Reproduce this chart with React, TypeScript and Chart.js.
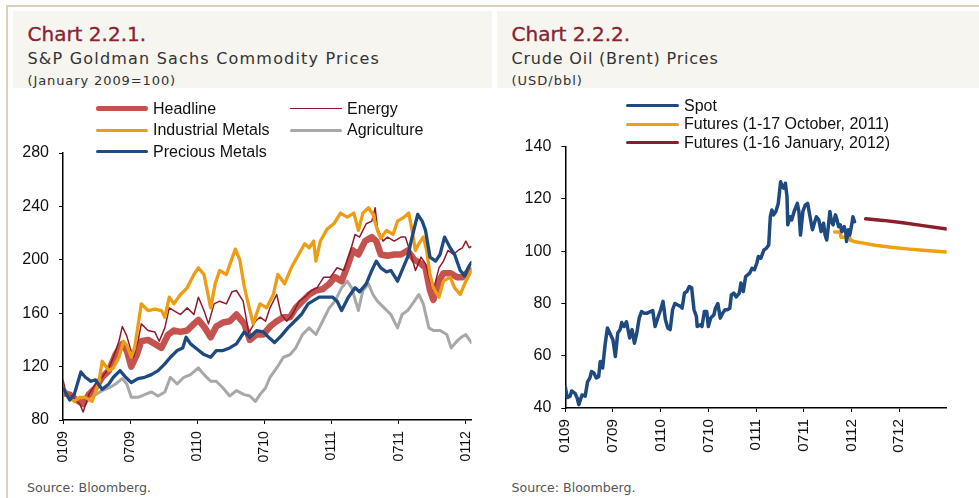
import React, { useEffect, useRef } from 'react';
import { Chart, registerables } from 'chart.js';
Chart.register(...registerables);

// ---------- Chart 2.2.1 : S&P GSCI sub-indices (x = months since Jan 2009) ----------
const gsTickMonths = [0, 6, 12, 18, 24, 30, 36];
const gsTickLabels = ['0109', '0709', '0110', '0710', '0111', '0711', '0112'];
const gsYMin = 80;
const gsYMax = 280;
const gsYStep = 40;

const headline: [number, number][] = [
  [0, 100], [0.6, 99], [1.2, 95], [1.8, 92], [2.3, 99], [2.9, 104], [3.5, 112], [4.1, 117], [4.7, 129], [5.3, 137],
  [5.7, 132], [6.1, 120], [6.6, 129], [7.0, 139], [7.6, 140], [8.2, 137], [8.8, 134], [9.4, 144], [9.9, 147], [10.5, 146],
  [11.1, 147], [11.7, 152], [12.1, 155], [12.6, 150], [13.2, 142], [13.7, 150], [14.3, 153], [14.9, 154], [15.5, 159], [16.2, 152],
  [16.7, 140], [17.3, 144], [17.9, 144], [18.5, 150], [19.1, 154], [19.7, 157], [20.3, 157], [20.8, 164], [21.4, 169], [22.0, 174],
  [22.6, 177], [23.2, 178], [23.8, 182], [24.3, 187], [24.9, 184], [25.5, 197], [25.9, 207], [26.4, 204], [27.0, 214], [27.6, 217],
  [28.0, 214], [28.4, 204], [29.0, 203], [29.6, 204], [30.2, 204], [30.8, 207], [31.4, 200], [32.0, 197], [32.4, 194], [32.8, 177],
  [33.1, 170], [33.6, 184], [34.0, 190], [34.6, 190], [35.2, 187], [35.7, 187], [36.2, 191], [36.5, 192],
];

const energy: [number, number][] = [
  [0, 110], [0.3, 99], [0.9, 97], [1.5, 92], [1.8, 86], [2.3, 99], [2.9, 107], [3.5, 112], [4.1, 119], [4.5, 127],
  [5.0, 139], [5.3, 150], [5.7, 143], [6.0, 134], [6.3, 127], [6.7, 139], [7.0, 152], [7.6, 147], [8.2, 146], [8.6, 139],
  [9.1, 149], [9.5, 164], [9.9, 162], [10.5, 159], [11.1, 164], [11.7, 159], [12.1, 172], [12.6, 162], [13.0, 152], [13.5, 167],
  [14.0, 169], [14.6, 167], [15.1, 176], [15.5, 177], [16.1, 169], [16.6, 145], [17.2, 154], [17.6, 157], [18.1, 154], [18.5, 164],
  [19.1, 174], [19.5, 159], [20.0, 154], [20.5, 159], [21.1, 169], [21.6, 172], [22.2, 177], [22.7, 179], [23.3, 187], [23.9, 187],
  [24.5, 194], [25.1, 192], [25.7, 207], [26.1, 219], [26.5, 217], [27.1, 227], [27.6, 229], [27.9, 239], [28.1, 224], [28.6, 214],
  [29.0, 217], [29.6, 214], [30.2, 217], [30.6, 217], [31.1, 204], [31.5, 192], [32.0, 202], [32.4, 197], [32.8, 184], [33.1, 177],
  [33.6, 194], [34.0, 199], [34.4, 207], [34.9, 204], [35.3, 207], [35.7, 209], [36.0, 214], [36.3, 209], [36.5, 210],
];

const industrialMetals: [number, number][] = [
  [0, 104], [0.4, 98], [1.0, 94], [1.5, 97], [2.0, 97], [2.6, 94], [3.2, 108], [3.5, 124], [4.1, 117], [4.5, 119],
  [5.0, 127], [5.4, 139], [5.7, 136], [6.1, 127], [6.4, 134], [7.0, 167], [7.6, 162], [8.2, 163], [8.8, 162], [9.1, 157],
  [9.5, 172], [9.9, 167], [10.5, 174], [11.1, 179], [11.7, 189], [12.1, 194], [12.6, 189], [13.2, 164], [13.6, 182], [14.0, 192],
  [14.6, 189], [15.4, 208], [15.8, 200], [16.2, 180], [16.5, 169], [17.0, 152], [17.6, 167], [18.2, 164], [18.8, 174], [19.2, 189],
  [19.8, 182], [20.4, 194], [21.0, 203], [21.6, 212], [22.0, 209], [22.4, 214], [22.6, 199], [23.0, 214], [23.6, 223], [24.2, 227],
  [24.8, 235], [25.4, 232], [26.0, 235], [26.4, 222], [26.8, 235], [27.3, 239], [27.7, 234], [28.1, 222], [28.4, 216], [28.9, 222],
  [29.5, 219], [29.9, 229], [30.5, 232], [30.9, 235], [31.2, 222], [31.5, 207], [31.8, 212], [32.2, 217], [32.5, 207], [32.8, 189],
  [33.1, 179], [33.6, 172], [34.0, 184], [34.6, 187], [35.0, 179], [35.5, 174], [36.0, 184], [36.5, 192],
];

const agriculture: [number, number][] = [
  [0, 104], [0.6, 99], [1.2, 94], [1.8, 92], [2.3, 97], [2.9, 99], [3.5, 102], [4.1, 104], [4.7, 107], [5.3, 111],
  [5.7, 107], [6.1, 97], [6.7, 97], [7.3, 99], [7.9, 101], [8.5, 98], [9.1, 101], [9.6, 112], [10.2, 107], [10.8, 112],
  [11.4, 114], [12.1, 119], [12.6, 114], [13.2, 109], [13.7, 109], [14.3, 104], [14.9, 98], [15.5, 102], [16.2, 99], [16.7, 98],
  [17.2, 94], [17.6, 99], [18.1, 104], [18.5, 112], [19.1, 119], [19.7, 127], [20.3, 129], [20.8, 134], [21.4, 144], [22.0, 149],
  [22.6, 144], [23.2, 154], [23.8, 164], [24.3, 169], [24.9, 179], [25.4, 184], [25.8, 179], [26.4, 162], [26.8, 177], [27.3, 182],
  [27.7, 174], [28.1, 169], [28.7, 164], [29.3, 159], [29.9, 149], [30.3, 159], [30.8, 162], [31.4, 169], [31.8, 174], [32.2, 167],
  [32.7, 149], [33.1, 147], [33.7, 147], [34.3, 144], [34.7, 134], [35.2, 139], [35.6, 142], [36.0, 144], [36.5, 138],
];

const preciousMetals: [number, number][] = [
  [0, 104], [0.6, 95], [1.0, 99], [1.6, 116], [2.0, 112], [2.5, 109], [2.9, 110], [3.5, 103], [4.1, 107], [4.5, 112],
  [5.1, 117], [5.6, 112], [6.1, 108], [6.7, 111], [7.3, 112], [7.9, 114], [8.5, 117], [9.1, 122], [9.6, 127], [10.2, 132],
  [10.7, 134], [11.0, 142], [11.4, 137], [12.0, 133], [12.6, 129], [13.2, 127], [13.7, 132], [14.3, 132], [14.9, 134], [15.5, 137],
  [16.2, 146], [16.7, 142], [17.3, 147], [17.9, 146], [18.5, 141], [18.9, 138], [19.5, 143], [20.1, 149], [20.7, 154], [21.3, 159],
  [21.9, 167], [22.3, 169], [22.9, 172], [23.5, 172], [24.1, 172], [24.5, 169], [24.9, 162], [25.5, 172], [26.1, 179], [26.5, 176],
  [27.1, 182], [27.6, 192], [28.0, 199], [28.4, 194], [28.9, 191], [29.3, 192], [29.9, 184], [30.3, 192], [30.8, 202], [31.2, 217],
  [31.7, 234], [32.1, 229], [32.4, 222], [32.8, 202], [33.3, 199], [33.7, 204], [34.1, 217], [34.6, 209], [35.0, 204], [35.5, 192],
  [35.9, 188], [36.2, 194], [36.5, 198],
];

// ---------- Chart 2.2.2 : Brent (USD/bbl) ----------
const brentTickMonths = [0, 6, 12, 18, 24, 30, 36, 42];
const brentTickLabels = ['0109', '0709', '0110', '0710', '0111', '0711', '0112', '0712'];
const brentYMin = 40;
const brentYMax = 140;
const brentYStep = 20;

const spot: [number, number][] = [
  [0, 48], [0.25, 44], [0.6, 44.5], [0.8, 46.5], [1.2, 45.7], [1.5, 43.8], [1.7, 41.3], [2.1, 45], [2.5, 44.5], [2.8, 50],
  [3.1, 51.5], [3.3, 54], [3.6, 53.4], [3.9, 51.5], [4.2, 52], [4.4, 57.8], [4.7, 55.3], [5.0, 64], [5.3, 70.6], [5.6, 68.7],
  [6.0, 66], [6.3, 59.7], [6.6, 68.7], [6.9, 70], [7.1, 72.7], [7.4, 71.2], [7.7, 73], [8.1, 66.8], [8.4, 70], [8.7, 64.8],
  [9.0, 68.7], [9.3, 74.4], [9.6, 76.9], [9.9, 76.3], [10.3, 76.3], [10.7, 76.9], [11.0, 77.3], [11.3, 71.2], [11.7, 75], [12.0, 77.6],
  [12.3, 80.8], [12.6, 73.8], [12.9, 70.6], [13.2, 70], [13.5, 77.6], [13.8, 80], [14.1, 79.5], [14.5, 78.9], [14.7, 78.2], [15.0, 84],
  [15.3, 84.6], [15.6, 86.5], [15.9, 86], [16.2, 77.6], [16.5, 75], [16.6, 71.2], [17.0, 71.8], [17.2, 71.2], [17.5, 76.9], [17.8, 76.9],
  [18.0, 71.2], [18.3, 74.4], [18.7, 75.7], [18.9, 78.2], [19.2, 80], [19.5, 74.4], [19.8, 76.3], [20.1, 77.6], [20.4, 77.6], [20.7, 78.2],
  [20.9, 83.3], [21.2, 84], [21.5, 82.5], [21.9, 84], [22.1, 87.8], [22.4, 84.6], [22.7, 90.3], [23.2, 91.6], [23.5, 93.5], [23.8, 92.9],
  [24.1, 95.4], [24.3, 98], [24.6, 97.3], [25.0, 100.5], [25.3, 101.1], [25.6, 102.4], [25.8, 113.2], [26.0, 115.8], [26.2, 113.9], [26.5, 115.2],
  [26.8, 118.3], [27.1, 126.6], [27.3, 124.7], [27.5, 124.1], [27.7, 126], [27.9, 120.9], [28.0, 110.1], [28.3, 113.2], [28.5, 112], [28.8, 115.2],
  [29.2, 118.3], [29.4, 115.2], [29.6, 106.2], [29.9, 115.2], [30.2, 117.7], [30.5, 118.3], [30.8, 113.2], [31.1, 108.2], [31.4, 111.3], [31.6, 113.2],
  [31.9, 112], [32.2, 107.5], [32.5, 110.7], [32.7, 106.2], [32.9, 104.3], [33.1, 109.4], [33.3, 115.2], [33.5, 111.3], [33.7, 110.1], [34.0, 113.9],
  [34.2, 112], [34.4, 109.4], [34.6, 110.1], [34.8, 107.5], [35.1, 109.4], [35.3, 106.9], [35.4, 103.7], [35.6, 108.2], [35.8, 106.2], [36.0, 109.4],
  [36.2, 113.2], [36.4, 111.3],
];

const futuresOct2011: [number, number][] = [
  [33.9, 107.4], [34.6, 107.4], [34.7, 105.3], [35.8, 105.3], [35.9, 104.2], [36.5, 103.6], [37.5, 103.1], [39, 102.3],
  [41, 101.5], [43, 100.9], [45, 100.4], [48, 99.7],
];

const futuresJan2012: [number, number][] = [
  [37.8, 112.4], [40, 111.8], [42.5, 110.9], [45, 109.8], [48, 108.5],
];

// ---------- styling ----------
const AXIS_FONT = '"Liberation Sans", Arial, sans-serif';
const TITLE_FONT = '"DejaVu Sans", sans-serif';
const C_HEADLINE = '#c4524e';
const C_ENERGY = '#8e1b2c';
const C_INDUSTRIAL = '#ec9d13';
const C_AGRI = '#a8a8a8';
const C_PRECIOUS = '#1f4a7f';
const C_SPOT = '#1f4a80';
const C_FUT_OCT = '#ef9f10';
const C_FUT_JAN = '#8b1d2c';

type DS = { label: string; data: [number, number][]; color: string; width: number };

type ChartProps = {
  w: number; h: number; left: number; top: number;
  plot: { left: number; top: number; right: number; bottom: number };
  datasets: DS[];
  xMax: number; tickMonths: number[]; tickLabels: string[]; xFont: number;
  yMin: number; yMax: number; yStep: number;
};

function LineChart(p: ChartProps) {
  const ref = useRef<HTMLCanvasElement>(null);
  useEffect(() => {
    const chart = new Chart(ref.current as HTMLCanvasElement, {
      type: 'line',
      data: {
        datasets: p.datasets.map((d) => ({
          label: d.label,
          data: d.data as any,
          borderColor: d.color,
          backgroundColor: d.color,
          borderWidth: d.width,
          pointRadius: 0,
          tension: 0,
          fill: false,
          borderJoinStyle: 'round',
          borderCapStyle: 'round',
        })),
      },
      options: {
        animation: false,
        responsive: false,
        maintainAspectRatio: false,
        devicePixelRatio: 1,
        layout: { padding: { left: 0, top: p.plot.top, right: p.w - p.plot.right, bottom: 0 } },
        plugins: { legend: { display: false }, tooltip: { enabled: false } },
        scales: {
          x: {
            type: 'linear',
            min: 0,
            max: p.xMax,
            afterBuildTicks: (s: any) => { s.ticks = p.tickMonths.map((v) => ({ value: v })); },
            afterFit: (s: any) => { s.height = p.h - p.plot.bottom; },
            ticks: {
              autoSkip: false,
              minRotation: 90,
              maxRotation: 90,
              padding: 7,
              color: '#111',
              font: { family: AXIS_FONT, size: p.xFont },
              callback: (_v: any, i: number) => p.tickLabels[i],
            },
            grid: { display: true, drawOnChartArea: false, drawTicks: true, tickLength: 4, tickColor: '#000', tickWidth: 1 },
            border: { display: true, color: '#000', width: 1.5 },
          },
          y: {
            type: 'linear',
            min: p.yMin,
            max: p.yMax,
            afterFit: (s: any) => { s.width = p.plot.left; },
            ticks: {
              stepSize: p.yStep,
              padding: 10,
              color: '#111',
              font: { family: AXIS_FONT, size: 16 },
            },
            grid: { display: true, drawOnChartArea: false, drawTicks: true, tickLength: 4, tickColor: '#000', tickWidth: 1 },
            border: { display: true, color: '#000', width: 1.5 },
          },
        },
      } as any,
    });
    return () => chart.destroy();
  }, []);
  return (
    <canvas
      ref={ref}
      width={p.w}
      height={p.h}
      style={{ position: 'absolute', left: p.left, top: p.top, width: p.w, height: p.h }}
    />
  );
}

function Txt(props: { x: number; y: number; size: number; text: string; color?: string; ls?: number; font?: string; stroke?: number }) {
  return (
    <div
      style={{
        position: 'absolute',
        left: props.x,
        top: props.y,
        fontFamily: props.font || TITLE_FONT,
        fontSize: props.size,
        lineHeight: props.size + 'px',
        color: props.color || '#333',
        letterSpacing: (props.ls || 0) + 'px',
        whiteSpace: 'nowrap',
        WebkitTextStroke: props.stroke ? `${props.stroke}px ${props.color}` : undefined,
      }}
    >
      {props.text}
    </div>
  );
}

function LegendItem(props: { x1: number; x2: number; cy: number; color: string; thick: number; label: string }) {
  const size = 16;
  return (
    <>
      <div
        style={{
          position: 'absolute',
          left: props.x1,
          top: props.cy - props.thick / 2,
          width: props.x2 - props.x1,
          height: props.thick,
          background: props.color,
          borderRadius: props.thick / 2,
        }}
      />
      <Txt x={props.x2 + 5} y={props.cy - 0.488 * size} size={size} text={props.label} color="#111" font={AXIS_FONT} />
    </>
  );
}

export default function App() {
  const tan = '#dcd2bc';
  const headerBg = '#f6f5f0';
  return (
    <div style={{ position: 'absolute', left: 0, top: 0, width: 979, height: 498, background: '#fff', overflow: 'hidden' }}>
      <div style={{ position: 'absolute', left: 6, top: 4.5, width: 973, height: 2, background: tan }} />
      <div style={{ position: 'absolute', left: 6, top: 4.5, width: 2, height: 494, background: tan }} />
      <div style={{ position: 'absolute', left: 13, top: 11, width: 479, height: 77, background: headerBg }} />
      <div style={{ position: 'absolute', left: 497, top: 11, width: 482, height: 77, background: headerBg }} />

      <Txt x={27.5} y={23.7} size={20} text="Chart 2.2.1." color="#8b2332" stroke={0.35} />
      <Txt x={27.5} y={51.4} size={16} text="S&P Goldman Sachs Commodity Prices" color="#333" ls={1.2} />
      <Txt x={27.5} y={73.5} size={13} text="(January 2009=100)" color="#333" ls={0.9} />

      <Txt x={511.5} y={23.7} size={20} text="Chart 2.2.2." color="#8b2332" stroke={0.35} />
      <Txt x={511.5} y={51.4} size={16} text="Crude Oil (Brent) Prices" color="#333" ls={0.8} />
      <Txt x={511.5} y={73.5} size={13} text="(USD/bbl)" color="#333" ls={1.0} />

      <LineChart
        w={490} h={385} left={0} top={95}
        plot={{ left: 63, top: 58, right: 479, bottom: 325 }}
        datasets={[
          { label: 'Precious Metals', data: preciousMetals, color: C_PRECIOUS, width: 3.3 },
          { label: 'Industrial Metals', data: industrialMetals, color: C_INDUSTRIAL, width: 3.3 },
          { label: 'Energy', data: energy, color: C_ENERGY, width: 1.5 },
          { label: 'Headline', data: headline, color: C_HEADLINE, width: 6.5 },
          { label: 'Agriculture', data: agriculture, color: C_AGRI, width: 3 },
        ]}
        xMax={36.5} tickMonths={gsTickMonths} tickLabels={gsTickLabels} xFont={14.2}
        yMin={gsYMin} yMax={gsYMax} yStep={gsYStep}
      />
      <LineChart
        w={489} h={385} left={490} top={95}
        plot={{ left: 75.3, top: 51.7, right: 456.7, bottom: 313 }}
        datasets={[
          { label: 'Spot', data: spot, color: C_SPOT, width: 3.5 },
          { label: 'Futures (1-17 October, 2011)', data: futuresOct2011, color: C_FUT_OCT, width: 3.5 },
          { label: 'Futures (1-16 January, 2012)', data: futuresJan2012, color: C_FUT_JAN, width: 3.5 },
        ]}
        xMax={48} tickMonths={brentTickMonths} tickLabels={brentTickLabels} xFont={15.2}
        yMin={brentYMin} yMax={brentYMax} yStep={brentYStep}
      />

      <LegendItem x1={96} x2={148} cy={108.4} color={C_HEADLINE} thick={4.5} label="Headline" />
      <LegendItem x1={290} x2={342} cy={108.4} color={C_ENERGY} thick={1.5} label="Energy" />
      <LegendItem x1={96} x2={148} cy={130.2} color={C_INDUSTRIAL} thick={3} label="Industrial Metals" />
      <LegendItem x1={290} x2={342} cy={130.2} color={C_AGRI} thick={3} label="Agriculture" />
      <LegendItem x1={96} x2={148} cy={151.8} color={C_PRECIOUS} thick={3} label="Precious Metals" />

      <LegendItem x1={626} x2={679} cy={105.8} color={C_SPOT} thick={3} label="Spot" />
      <LegendItem x1={626} x2={679} cy={124.3} color={C_FUT_OCT} thick={3} label="Futures (1-17 October, 2011)" />
      <LegendItem x1={626} x2={679} cy={142.7} color={C_FUT_JAN} thick={3} label="Futures (1-16 January, 2012)" />

      <Txt x={27} y={481.8} size={12.6} text="Source: Bloomberg." color="#555" />
      <Txt x={511.5} y={481.8} size={12.6} text="Source: Bloomberg." color="#555" />
    </div>
  );
}
